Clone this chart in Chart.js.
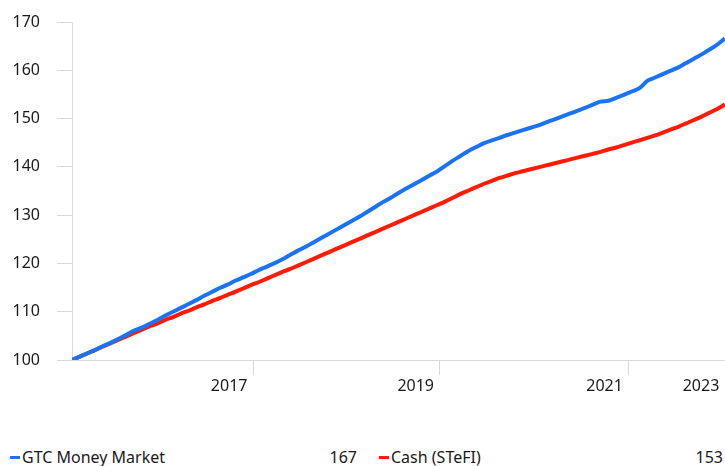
<!DOCTYPE html>
<html>
<head>
<meta charset="utf-8">
<script src="https://cdn.jsdelivr.net/npm/chart.js@4.4.1/dist/chart.umd.min.js"></script>
<style>
  body { margin: 0; background: #fff; font-family: "Noto Sans", sans-serif; color: #1a1a1a; }
  #wrap { position: relative; width: 725px; height: 466px; }
  #chart { position: absolute; left: 0; top: 0; }
  .leg { position: absolute; top: 446px; font-size: 16px; line-height: 22px; white-space: nowrap; }
  .sw { display: inline-block; width: 10px; height: 3px; vertical-align: middle; margin-right: 2px; position: relative; top: -1px; }
  .val { position: absolute; top: 446px; font-size: 16px; line-height: 22px; text-align: right; }
</style>
</head>
<body>
<div id="wrap">
  <canvas id="chart" width="725" height="400"></canvas>
  <div class="leg" style="left:10px"><span class="sw" style="background:#1a73f5"></span>GTC Money Market</div>
  <div class="val" id="v0" style="left:300px; width:57px"></div>
  <div class="leg" style="left:379px"><span class="sw" style="background:#ff1a00"></span>Cash (STeFI)</div>
  <div class="val" id="v1" style="left:666px; width:57px"></div>
</div>
<script>
// monthly index values, rebased to 100
let gtcValues = [
  100.0, 100.7, 101.4, 102.1, 102.9, 103.6, 104.4, 105.2, 106.1, 106.7,
  107.5, 108.3, 109.2, 110.0, 110.8, 111.6, 112.4, 113.3, 114.1, 114.9,
  115.6, 116.4, 117.1, 117.8, 118.6, 119.3, 120.0, 120.8, 121.7, 122.6,
  123.4, 124.3, 125.2, 126.1, 127.0, 127.9, 128.8, 129.7, 130.7, 131.7,
  132.7, 133.6, 134.6, 135.5, 136.4, 137.3, 138.2, 139.1, 140.2, 141.3,
  142.3, 143.3, 144.1, 144.9, 145.5, 146.0, 146.6, 147.1, 147.6, 148.1,
  148.6, 149.2, 149.8, 150.4, 151.0, 151.6, 152.2, 152.9, 153.5, 153.7,
  154.3, 154.9, 155.6, 156.3, 157.8, 158.5, 159.2, 159.9, 160.6, 161.5,
  162.4, 163.3, 164.3, 165.3, 166.6
]
let cashValues = [
  100.0, 100.7, 101.4, 102.1, 102.8, 103.5, 104.2, 104.9, 105.6, 106.3,
  107.0, 107.6, 108.3, 108.9, 109.6, 110.2, 110.9, 111.5, 112.2, 112.8,
  113.5, 114.1, 114.8, 115.5, 116.1, 116.8, 117.5, 118.2, 118.8, 119.5,
  120.2, 120.9, 121.6, 122.3, 123.0, 123.7, 124.4, 125.1, 125.8, 126.5,
  127.2, 127.9, 128.6, 129.3, 130.0, 130.7, 131.4, 132.1, 132.8, 133.6,
  134.4, 135.1, 135.8, 136.5, 137.1, 137.7, 138.2, 138.7, 139.1, 139.5,
  139.9, 140.3, 140.7, 141.1, 141.5, 141.9, 142.3, 142.7, 143.1, 143.6,
  144.0, 144.5, 145.0, 145.5, 146.0, 146.5, 147.1, 147.7, 148.3, 149.0,
  149.7, 150.4, 151.2, 152.0, 152.9
]
let yearTicks = [23.3, 47.3, 71.6, 84]
let yearLabels = ['2017', '2019', '2021', '2023']
let seriesNames = ['GTC Money Market', 'Cash (STeFI)']

let gtcPoints = gtcValues.map((v, i) => ({ x: i, y: v }))
let cashPoints = cashValues.map((v, i) => ({ x: i, y: v }))

document.getElementById('v0').textContent = Math.round(gtcValues[gtcValues.length - 1])
document.getElementById('v1').textContent = Math.round(cashValues[cashValues.length - 1])

Chart.defaults.font.family = '"Noto Sans", sans-serif'
Chart.defaults.font.size = 16
Chart.defaults.color = '#1a1a1a'

let ctx = document.getElementById('chart').getContext('2d')
let chart = new Chart(ctx, {
  type: 'line',
  data: {
    datasets: [{
      label: seriesNames[0],
      data: gtcPoints,
      borderColor: '#1a73f5',
      borderWidth: 4,
      pointRadius: 0,
      cubicInterpolationMode: 'monotone'
    }, {
      label: seriesNames[1],
      data: cashPoints,
      borderColor: '#ff1a00',
      borderWidth: 4,
      pointRadius: 0,
      cubicInterpolationMode: 'monotone'
    }]
  },
  options: {
    responsive: false,
    animation: false,
    layout: { padding: { top: 22, left: 0, right: 0, bottom: 0 } },
    plugins: { legend: { display: false }, tooltip: { enabled: false } },
    scales: {
      x: {
        type: 'linear',
        min: 0,
        max: 84,
        afterBuildTicks: s => { s.ticks = yearTicks.map(v => ({ value: v })) },
        afterFit: s => { s.height = 40; s.paddingLeft = 0; s.paddingRight = 0 },
        ticks: {
          autoSkip: false,
          maxRotation: 0,
          labelOffset: -24,
          padding: 2,
          callback: v => yearLabels[yearTicks.indexOf(v)]
        },
        grid: {
          drawOnChartArea: false,
          tickLength: 15,
          color: c => (c.index === yearTicks.length - 1 ? 'rgba(0,0,0,0)' : '#d9d9d9')
        },
        border: { color: '#d9d9d9' }
      },
      y: {
        min: 100,
        max: 170,
        afterFit: s => { s.width = 72; s.paddingTop = 0; s.paddingBottom = 0 },
        ticks: { stepSize: 10, padding: 17 },
        grid: { drawOnChartArea: false, tickLength: 15, color: '#d9d9d9' },
        border: { color: '#d9d9d9' }
      }
    }
  }
})
</script>
</body>
</html>
